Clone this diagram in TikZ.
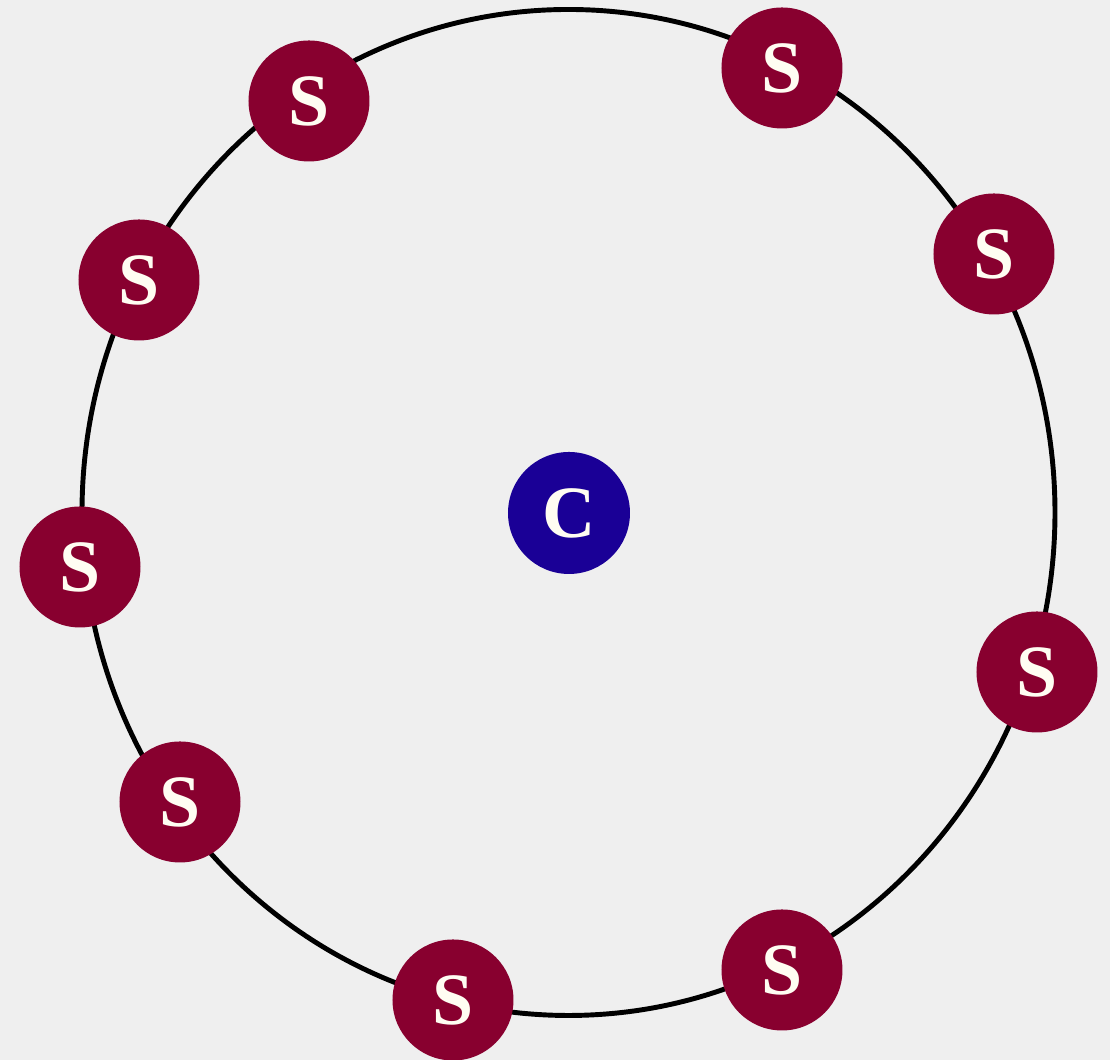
\documentclass[tikz,border=0pt]{standalone}
\usepackage{fontspec}
\newfontfamily\labelfont{Liberation Serif}[BoldFont={Liberation Serif Bold}]
\usepackage{xcolor}
\usepackage{tikz}
\usetikzlibrary{positioning}
\definecolor{paper}{HTML}{EFEFEF}
\definecolor{satred}{HTML}{88002F}
\definecolor{coreblue}{HTML}{1A0096}
\definecolor{cream}{HTML}{FFFDF2}

\begin{document}
\begin{tikzpicture}[
    snode/.style={circle, fill=satred, minimum size=1.21cm, inner sep=0pt, text=cream, font=\labelfont\bfseries\fontsize{21}{23}\selectfont},
    cnode/.style={circle, fill=coreblue, minimum size=1.22cm, inner sep=0pt, text=cream, font=\labelfont\bfseries\fontsize{21}{23}\selectfont}
  ]
      \fill[paper] (0,0) rectangle (11.1,10.6);
      \useasboundingbox (0,0) rectangle (11.1,10.6);
      % orbit
      \draw[line width=1.4pt, black] (5.685,5.475) ellipse [x radius=4.865cm, y radius=5.03cm];
      % centre
      \node[cnode] (core) at (5.69,5.47) {C};
      % satellites, clockwise from top left
      \node[snode] (s1) at (3.09,9.59) {S};
      \node[snode] (s2) at (7.82,9.92) {S};
      \node[snode] (s3) at (9.94,8.06) {S};
      \node[snode] (s4) at (10.37,3.88) {S};
      \node[snode] (s5) at (7.82,0.90) {S};
      \node[snode] (s6) at (4.53,0.60) {S};
      \node[snode] (s7) at (1.80,2.58) {S};
      \node[snode] (s8) at (0.80,4.93) {S};
      \node[snode] (s9) at (1.39,7.80) {S};
    \end{tikzpicture}
\end{document}
